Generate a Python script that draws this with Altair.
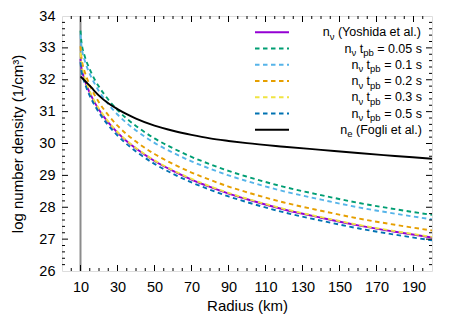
import altair as alt
import pandas as pd

# ---------------- data ----------------
radius = [10, 10.25, 10.5, 11, 12, 13, 14, 16, 18, 20, 25, 30, 35, 40, 50,
          60, 70, 80, 90, 100, 120, 140, 160, 180, 200]

n_yoshida = [32.65, 32.50, 32.39, 32.24, 32.04, 31.87, 31.72, 31.47, 31.25, 31.06,
             30.66, 30.34, 30.07, 29.84, 29.45, 29.14, 28.87, 28.64, 28.43, 28.25,
             27.93, 27.67, 27.43, 27.23, 27.05]
n_tpb_005 = [33.54, 33.34, 33.19, 33.01, 32.79, 32.61, 32.46, 32.20, 31.97, 31.78,
             31.38, 31.05, 30.78, 30.55, 30.16, 29.85, 29.58, 29.35, 29.14, 28.96,
             28.64, 28.38, 28.14, 27.94, 27.76]
n_tpb_01 = [33.42, 33.21, 33.07, 32.88, 32.66, 32.48, 32.32, 32.06, 31.84, 31.64,
            31.24, 30.91, 30.64, 30.41, 30.02, 29.71, 29.44, 29.21, 29.00, 28.82,
            28.50, 28.24, 28.00, 27.80, 27.62]
n_tpb_02 = [33.05, 32.85, 32.70, 32.52, 32.30, 32.12, 31.97, 31.71, 31.48, 31.29,
            30.89, 30.56, 30.29, 30.06, 29.67, 29.36, 29.09, 28.86, 28.65, 28.47,
            28.15, 27.89, 27.65, 27.45, 27.27]
n_tpb_03 = [32.85, 32.65, 32.50, 32.32, 32.10, 31.92, 31.77, 31.51, 31.28, 31.09,
            30.69, 30.36, 30.09, 29.86, 29.47, 29.16, 28.89, 28.66, 28.45, 28.27,
            27.95, 27.69, 27.45, 27.25, 27.07]
n_tpb_05 = [32.55, 32.40, 32.29, 32.14, 31.94, 31.78, 31.63, 31.38, 31.16, 30.97,
            30.57, 30.25, 29.98, 29.75, 29.36, 29.05, 28.78, 28.55, 28.34, 28.16,
            27.84, 27.58, 27.34, 27.14, 26.96]
n_e_fogli = [32.10, 32.09, 32.07, 32.05, 31.99, 31.93, 31.87, 31.75, 31.62, 31.50,
             31.26, 31.08, 30.92, 30.78, 30.56, 30.40, 30.27, 30.16, 30.08, 30.01,
             29.90, 29.80, 29.70, 29.61, 29.52]

vline_x = [10]
x_tick_labels = [10, 30, 50, 70, 90, 110, 130, 150, 170, 190]
y_tick_labels = [26, 27, 28, 29, 30, 31, 32, 33, 34]

# legend text: (text, main/sub) segments
legend_rows = [
    [("n", "m"), ("ν", "s"), (" (Yoshida et al.)", "m")],
    [("n", "m"), ("ν", "s"), (" t", "m"), ("pb", "s"), (" = 0.05 s", "m")],
    [("n", "m"), ("ν", "s"), (" t", "m"), ("pb", "s"), (" = 0.1 s", "m")],
    [("n", "m"), ("ν", "s"), (" t", "m"), ("pb", "s"), (" = 0.2 s", "m")],
    [("n", "m"), ("ν", "s"), (" t", "m"), ("pb", "s"), (" = 0.3 s", "m")],
    [("n", "m"), ("ν", "s"), (" t", "m"), ("pb", "s"), (" = 0.5 s", "m")],
    [("n", "m"), ("e", "s"), (" (Fogli et al.)", "m")],
]

# ---------------- styling ----------------
series = [
    (n_yoshida, "#9400d3", None),
    (n_tpb_005, "#009e73", [4.5, 3.5]),
    (n_tpb_01, "#56b4e9", [4.5, 3.5]),
    (n_tpb_02, "#e69f00", [4.5, 3.5]),
    (n_tpb_03, "#f0e442", [4.5, 3.5]),
    (n_tpb_05, "#0072b2", [4.5, 3.5]),
    (n_e_fogli, "#000000", None),
]

W, H = 370, 255
XMIN, XMAX, YMIN, YMAX = 0, 200, 26, 34
FONT = "Liberation Sans"
xs = alt.Scale(domain=[XMIN, XMAX], nice=False, zero=False)
ys = alt.Scale(domain=[YMIN, YMAX], nice=False, zero=False)

x_axis = alt.Axis(values=x_tick_labels, title="Radius (km)", ticks=False,
                  domain=False, grid=False, labelFont=FONT, labelFontSize=14.5,
                  labelColor="black", labelPadding=9, titleFont=FONT, titleFontSize=15,
                  titleFontWeight="normal", titleColor="black", titlePadding=5)
y_axis = alt.Axis(values=y_tick_labels, title="log number density (1/cm³)", ticks=False,
                  domain=False, grid=False, labelFont=FONT, labelFontSize=14.5,
                  labelColor="black", labelPadding=7, titleFont=FONT, titleFontSize=15,
                  titleFontWeight="normal", titleColor="black", titlePadding=13)


def X(f):
    return alt.X(f, type="quantitative", scale=xs, axis=x_axis, title="Radius (km)")


def Y(f):
    return alt.Y(f, type="quantitative", scale=ys, axis=y_axis,
                 title="log number density (1/cm³)")


layers = []

# vertical gray line at r = 10
layers.append(
    alt.Chart(pd.DataFrame({"r": vline_x})).mark_rule(color="#8c8c8c", strokeWidth=2)
    .encode(x=X("r"))
)

# curves
for vals, col, dash in series:
    df = pd.DataFrame({"r": radius, "v": vals})
    kw = dict(color=col, strokeWidth=1.9, interpolate="monotone", clip=True)
    if dash:
        kw["strokeDash"] = dash
    layers.append(alt.Chart(df).mark_line(**kw).encode(x=X("r"), y=Y("v")))

# inward ticks (mirrored on all four sides)
x_minor = [v for v in range(5, 200, 5) if v not in x_tick_labels]
y_minor = [round(26 + 0.2 * i, 1) for i in range(1, 40) if i % 5 != 0]
y_major_in = [v for v in y_tick_labels if v not in (26, 34)]


def xticks(vals, ln):
    d = pd.DataFrame({"r": vals})
    b = alt.Chart(d).mark_rule(color="black", strokeWidth=1).encode(
        x=X("r"), y=alt.value(H), y2=alt.value(H - ln))
    t = alt.Chart(d).mark_rule(color="black", strokeWidth=1).encode(
        x=X("r"), y=alt.value(0), y2=alt.value(ln))
    return [b, t]


def yticks(vals, ln):
    d = pd.DataFrame({"v": vals})
    l = alt.Chart(d).mark_rule(color="black", strokeWidth=1).encode(
        y=Y("v"), x=alt.value(0), x2=alt.value(ln))
    r = alt.Chart(d).mark_rule(color="black", strokeWidth=1).encode(
        y=Y("v"), x=alt.value(W), x2=alt.value(W - ln))
    return [l, r]


layers += xticks(x_tick_labels, 6) + xticks(x_minor, 3)
layers += yticks(y_major_in, 6) + yticks(y_minor, 3)

# ---------------- legend (inside, top right) ----------------
CW = {" ": 278, "(": 333, ")": 333, ".": 278, "=": 584, "a": 556, "b": 556, "d": 556,
      "e": 556, "g": 556, "h": 556, "i": 222, "l": 222, "n": 556, "o": 556, "p": 556,
      "s": 500, "t": 278, "v": 500, "ν": 500, "F": 611, "Y": 667}
for dgt in "0123456789":
    CW[dgt] = 556


def tw(s, size):
    return sum(CW.get(c, 556) for c in s) * size / 1000.0


MAIN, SUB = 12.5, 9.5
RIGHT = 360
row_y = [16.3 + 16.25 * i for i in range(len(legend_rows))]
seg_rows = []
for i, segs in enumerate(legend_rows):
    total = sum(tw(t, MAIN if k == "m" else SUB) for t, k in segs)
    x = RIGHT - total
    for t, k in segs:
        fs = MAIN if k == "m" else SUB
        stripped = t.lstrip(" ")
        lead = tw(t[: len(t) - len(stripped)], fs)
        py = row_y[i] + (0 if k == "m" else 4.5)
        seg_rows.append({
            "lx": XMIN + (x + lead) / W * (XMAX - XMIN),
            "ly": YMAX - py / H * (YMAX - YMIN),
            "txt": stripped, "fs": fs})
        x += tw(t, fs)

leg_df = pd.DataFrame(seg_rows)
layers.append(
    alt.Chart(leg_df).mark_text(align="left", baseline="middle", font=FONT, color="black")
    .encode(x=X("lx"), y=Y("ly"), text="txt:N",
            size=alt.Size("fs:Q", scale=None, legend=None))
)

for i, (vals, col, dash) in enumerate(series):
    kw = dict(color=col, strokeWidth=2)
    if dash:
        kw["strokeDash"] = dash
    layers.append(
        alt.Chart(pd.DataFrame({"r": [0]})).mark_rule(**kw).encode(
            x=alt.value(193), x2=alt.value(227), y=alt.value(row_y[i]))
    )

chart = alt.layer(*layers).properties(
    width=W, height=H,
    autosize=alt.AutoSizeParams(type="none"),
    padding={"left": 54, "top": 8, "right": 18, "bottom": 48},
).configure_view(stroke="black", strokeWidth=1).configure(background="white")

chart.save("out.html", embed_options={"renderer": "svg", "actions": False})
